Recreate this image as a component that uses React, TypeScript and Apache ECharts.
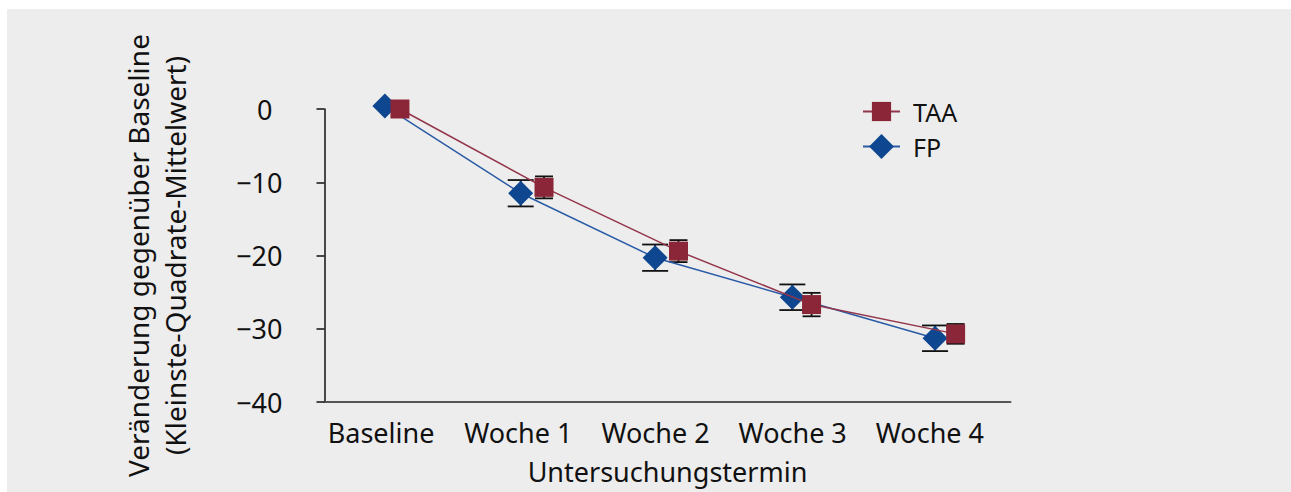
import React, { useEffect, useRef } from "react";
import * as echarts from "echarts";

const categories = ["Baseline", "Woche 1", "Woche 2", "Woche 3", "Woche 4"];

// x positions (in category units, offset around each time point)
const taaX = [0.05, 1.1, 2.08, 3.05, 4.1];
const taaY = [0, -10.7, -19.4, -26.7, -30.7];
const taaErr = [0, 1.5, 1.5, 1.6, 1.35];

const fpX = [-0.06, 0.93, 1.91, 2.91, 3.95];
const fpY = [0.4, -11.5, -20.3, -25.7, -31.3];
const fpErr = [0, 1.8, 1.8, 1.75, 1.75];

const FONT = "'Noto Sans', sans-serif";
const RED = "#8a2637";
const BLUE = "#0e4790";

function errData(xs: number[], ys: number[], es: number[]) {
  const out: number[][] = [];
  xs.forEach((x, i) => {
    if (es[i] > 0) out.push([x, ys[i] - es[i], ys[i] + es[i]]);
  });
  return out;
}

function errRender(capHalf: number) {
  return (params: any, api: any) => {
    const x = api.value(0);
    const lo = api.value(1);
    const hi = api.value(2);
    const t = api.coord([x, hi]);
    const b = api.coord([x, lo]);
    const style = { stroke: "#111111", lineWidth: 1.8 };
    return {
      type: "group",
      children: [
        { type: "line", shape: { x1: t[0], y1: t[1], x2: b[0], y2: b[1] }, style },
        { type: "line", shape: { x1: t[0] - capHalf, y1: t[1], x2: t[0] + capHalf, y2: t[1] }, style },
        { type: "line", shape: { x1: b[0] - capHalf, y1: b[1], x2: b[0] + capHalf, y2: b[1] }, style },
      ],
    };
  };
}

export default function App() {
  const ref = useRef<HTMLDivElement>(null);
  useEffect(() => {
    if (!ref.current) return;
    const chart = echarts.init(ref.current, null, { renderer: "svg" });
    const option: any = {
      animation: false,
      backgroundColor: "#ffffff",
      graphic: [
        {
          type: "rect",
          z: -10,
          silent: true,
          shape: { x: 7, y: 9, width: 1284, height: 483 },
          style: { fill: "#ededed" },
        },
      ],
      textStyle: { fontFamily: FONT },
      grid: { left: 324.5, right: 280.5, top: 109, bottom: 90, containLabel: false },
      legend: [
        {
          data: ["TAA"],
          left: 862,
          top: 99,
          padding: 0,
          itemWidth: 37,
          itemHeight: 24,
          textStyle: { fontFamily: FONT, fontSize: 25, lineHeight: 24, color: "#111", padding: [0, 0, 0, 8] },
          selectedMode: false,
        },
        {
          data: ["FP"],
          left: 862,
          top: 131,
          padding: 0,
          itemWidth: 37,
          itemHeight: 31,
          textStyle: { fontFamily: FONT, fontSize: 25, lineHeight: 31, color: "#111", padding: [0, 0, 0, 8] },
          selectedMode: false,
        },
      ],
      xAxis: [
        {
          type: "category",
          data: categories,
          boundaryGap: true,
          name: "Untersuchungstermin",
          nameLocation: "middle",
          nameGap: 56,
          nameTextStyle: { fontFamily: FONT, fontSize: 27, color: "#111" },
          axisLine: { onZero: false, lineStyle: { color: "#555555", width: 2 } },
          axisTick: { alignWithLabel: true, length: 8, lineStyle: { color: "#111", width: 1.5 } },
          axisLabel: {
            interval: 0,
            fontFamily: FONT,
            fontSize: 27,
            color: "#111",
            margin: 17,
            padding: [0, 24, 0, 0],
          },
          splitLine: { show: false },
        },
        {
          type: "value",
          min: -0.5,
          max: 4.5,
          show: false,
        },
      ],
      yAxis: {
        type: "value",
        min: -40,
        max: 0,
        interval: 10,
        name: "Veränderung gegenüber Baseline\n(Kleinste-Quadrate-Mittelwert)",
        nameLocation: "middle",
        nameRotate: 90,
        nameGap: 131,
        nameTextStyle: { fontFamily: FONT, fontSize: 28, color: "#111", lineHeight: 37 },
        axisLine: { show: true, onZero: false, lineStyle: { color: "#111", width: 1.5 } },
        axisTick: { show: true, length: 8, lineStyle: { color: "#111", width: 1.5 } },
        axisLabel: {
          fontFamily: FONT,
          fontSize: 27,
          color: "#111",
          margin: 42,
          formatter: (v: number) => (v === 0 ? "{z|0}" : "\u2212" + Math.abs(v)),
          rich: { z: { fontFamily: FONT, fontSize: 27, color: "#111", padding: [0, 10, 0, 0] } },
        },
        splitLine: { show: false },
      },
      series: [
        {
          type: "custom",
          name: "fpErr",
          xAxisIndex: 1,
          yAxisIndex: 0,
          z: 1,
          clip: false,
          renderItem: errRender(13),
          encode: { x: 0, y: [1, 2] },
          data: errData(fpX, fpY, fpErr),
        },
        {
          type: "custom",
          name: "taaErr",
          xAxisIndex: 1,
          yAxisIndex: 0,
          z: 1,
          clip: false,
          renderItem: errRender(9),
          encode: { x: 0, y: [1, 2] },
          data: errData(taaX, taaY, taaErr),
        },
        {
          type: "line",
          name: "FP",
          xAxisIndex: 1,
          z: 3,
          clip: false,
          showAllSymbol: true,
          data: fpX.map((x, i) => [x, fpY[i]]),
          symbol: "diamond",
          symbolSize: 25,
          lineStyle: { color: "#2a5ba6", width: 1.5 },
          itemStyle: { color: BLUE },
        },
        {
          type: "line",
          name: "TAA",
          xAxisIndex: 1,
          z: 4,
          clip: false,
          showAllSymbol: true,
          data: taaX.map((x, i) => [x, taaY[i]]),
          symbol: "rect",
          symbolSize: 19,
          lineStyle: { color: "#93354a", width: 1.5 },
          itemStyle: { color: RED },
        },
      ],
    };
    chart.setOption(option);
    return () => chart.dispose();
  }, []);
  return (
    <div
      ref={ref}
      style={{ position: "fixed", left: 0, top: 0, width: 1291, height: 492 }}
    />
  );
}
